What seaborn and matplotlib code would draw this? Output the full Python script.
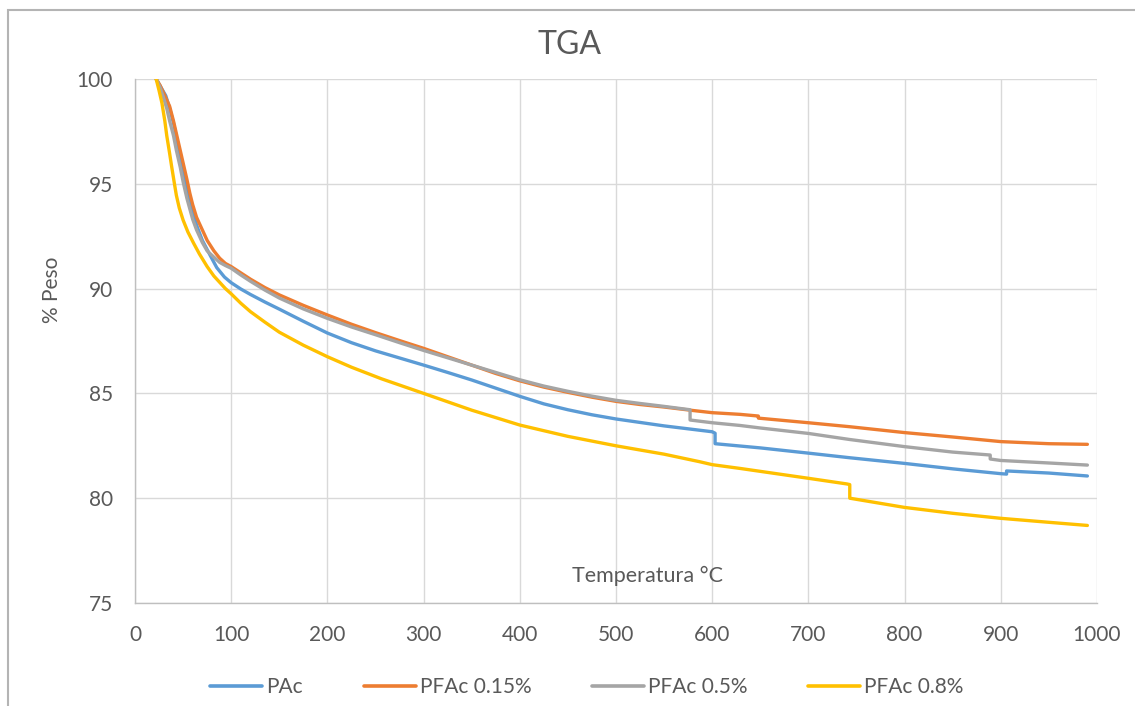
import matplotlib
matplotlib.use("Agg")
import matplotlib.pyplot as plt
import seaborn as sns
import pandas as pd
from matplotlib.patches import Rectangle

# ---- data ----
pac_t = [22, 27, 32, 36, 40, 45, 50, 55, 60, 65, 70, 78, 85, 93, 100, 110, 120, 135, 150, 175, 200,
         225, 250, 275, 300, 325, 350, 375, 400, 425, 450, 475, 500, 550, 600, 603, 603, 650, 700,
         743, 800, 850, 900, 906, 906, 950, 990]
pac_w = [100, 99.6, 99.2, 98.6, 97.9, 96.8, 95.6, 94.5, 93.6, 92.9, 92.3, 91.6, 91.0, 90.55, 90.28,
         89.98, 89.72, 89.36, 89.02, 88.44, 87.88, 87.42, 87.03, 86.69, 86.35, 86.0, 85.64, 85.25, 84.86,
         84.5, 84.22, 83.98, 83.78, 83.45, 83.17, 83.1, 82.6, 82.4, 82.15, 81.93, 81.66, 81.4, 81.17,
         81.15, 81.3, 81.2, 81.06]

pf015_t = [22, 26, 29, 33, 36, 40, 43, 47, 50, 54, 57, 60, 64, 70, 75, 82, 88, 94, 100, 110, 120, 135,
           150, 175, 200, 225, 250, 275, 300, 325, 350, 375, 400, 425, 450, 475, 500, 525, 550, 577,
           600, 629, 648, 648, 700, 743, 800, 850, 900, 950, 990]
pf015_w = [100, 99.7, 99.4, 99.0, 98.7, 98.0, 97.4, 96.6, 96.0, 95.2, 94.55, 94.0, 93.4, 92.8, 92.3,
           91.8, 91.45, 91.2, 91.05, 90.75, 90.45, 90.05, 89.7, 89.2, 88.74, 88.3, 87.9, 87.52, 87.15,
           86.75, 86.35, 85.95, 85.6, 85.3, 85.05, 84.82, 84.62, 84.47, 84.35, 84.2, 84.08, 84.0,
           83.92, 83.82, 83.6, 83.41, 83.13, 82.92, 82.7, 82.6, 82.57]

pf05_t = [22, 26, 29, 33, 36, 40, 43, 47, 50, 54, 57, 60, 64, 70, 75, 82, 88, 94, 100, 110, 120, 135,
          150, 175, 200, 225, 250, 275, 300, 325, 350, 375, 400, 425, 450, 475, 500, 525, 550, 577,
          577, 600, 629, 650, 700, 743, 800, 850, 889, 889, 900, 950, 990]
pf05_w = [100, 99.6, 99.2, 98.6, 98.0, 97.3, 96.6, 95.8, 95.1, 94.3, 93.8, 93.3, 92.8, 92.2, 91.8,
          91.5, 91.25, 91.1, 90.97, 90.65, 90.35, 89.93, 89.55, 89.03, 88.58, 88.17, 87.8, 87.42, 87.05,
          86.7, 86.35, 86.0, 85.65, 85.35, 85.1, 84.87, 84.67, 84.52, 84.38, 84.22, 83.73, 83.6,
          83.47, 83.35, 83.09, 82.8, 82.46, 82.2, 82.06, 81.87, 81.8, 81.68, 81.58]

pf08_t = [22, 25, 28, 31, 33, 36, 38, 41, 43, 46, 50, 55, 61, 67, 75, 82, 88, 94, 100, 110, 120, 135,
          150, 175, 200, 225, 256, 300, 350, 400, 450, 500, 550, 587, 600, 629, 700, 740, 743, 743,
          800, 850, 900, 950, 990]
pf08_w = [100, 99.45, 98.85, 98.0, 97.3, 96.45, 95.85, 95.0, 94.45, 93.85, 93.27, 92.7, 92.16, 91.65,
          91.05, 90.6, 90.3, 90.0, 89.75, 89.3, 88.9, 88.4, 87.92, 87.3, 86.75, 86.25, 85.7, 85.0, 84.2,
          83.49, 82.95, 82.5, 82.1, 81.74, 81.6, 81.42, 80.95, 80.68, 80.65, 80.0, 79.56, 79.28, 79.04,
          78.85, 78.7]

series_names = ["PAc", "PFAc 0.15%", "PFAc 0.5%", "PFAc 0.8%"]
colors = ["#5B9BD5", "#ED7D31", "#A5A5A5", "#FFC000"]
x_ticks = [0, 100, 200, 300, 400, 500, 600, 700, 800, 900, 1000]
y_ticks = [75, 80, 85, 90, 95, 100]

frames = []
for name, t, w in zip(series_names, [pac_t, pf015_t, pf05_t, pf08_t], [pac_w, pf015_w, pf05_w, pf08_w]):
    d = pd.DataFrame({"T": t, "W": w})
    d["serie"] = name
    frames.append(d)
df = pd.concat(frames, ignore_index=True)

# ---- style ----
sns.set_style("white")
plt.rcParams["font.family"] = ["Lato", "DejaVu Sans"]
txt = "#595959"

fig = plt.figure(figsize=(11.35, 7.06), dpi=100)
ax = fig.add_axes([135 / 1135, 1 - 603 / 706, (1097 - 135) / 1135, (603 - 79) / 706])

sns.lineplot(data=df, x="T", y="W", hue="serie", hue_order=series_names, palette=colors,
             sort=False, estimator=None, units="serie", linewidth=2.4, legend=False, ax=ax)
for ln in ax.get_lines():
    ln.set_solid_joinstyle("round")

ax.set_xlim(0, 1000)
ax.set_ylim(75, 100)
ax.set_xticks(x_ticks)
ax.set_yticks(y_ticks)
ax.grid(True, color="#D9D9D9", linewidth=1.0)
ax.set_axisbelow(True)
for s in ["top", "right"]:
    ax.spines[s].set_visible(False)
for s in ["left", "bottom"]:
    ax.spines[s].set_color("#BFBFBF")
    ax.spines[s].set_linewidth(1.0)
ax.tick_params(axis="both", which="major", direction="out", length=5, width=1.0,
               color="#BFBFBF", labelcolor=txt, labelsize=15)
ax.tick_params(axis="x", pad=11)
ax.tick_params(axis="y", pad=11)
ax.set_xlabel("")
ax.set_ylabel("")

# axis titles as in the reference
ax.text(0.533, 0.052, "Temperatura °C", transform=ax.transAxes, ha="center", va="center",
        fontsize=15.5, color=txt)
fig.text(52 / 1135, 1 - 290 / 706, "% Peso", rotation=90, ha="center", va="center",
         fontsize=15, color=txt)
fig.text(570 / 1135, 1 - 45 / 706, "TGA", ha="center", va="center", fontsize=23, color=txt)

# legend at bottom
handles = ax.get_lines()[:4]
leg = fig.legend(handles, series_names, loc="center", ncol=4, frameon=False,
                 bbox_to_anchor=(587 / 1135, 1 - 687 / 706), fontsize=15,
                 handlelength=2.5, handletextpad=0.2, columnspacing=2.9, labelcolor=txt)
for lh in leg.get_lines():
    lh.set_linewidth(2.6)

# outer chart frame
fig.patches.append(Rectangle((8 / 1135, -0.05), 1.2, 1 - 10 / 706 + 0.05, transform=fig.transFigure,
                             fill=False, edgecolor="#B4B4B4", linewidth=1.5, zorder=0))

fig.savefig("out.png", dpi=100)
